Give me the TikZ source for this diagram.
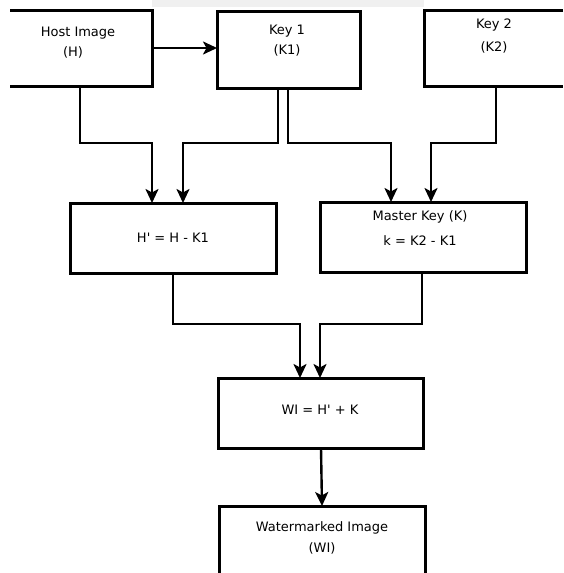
\documentclass[tikz,border=0pt]{standalone}
\usepackage{fontspec}
\setmainfont{DejaVu Sans}
\usetikzlibrary{arrows.meta}
\begin{document}
\begin{tikzpicture}[x=1pt,y=-1pt,
  boxline/.style={line width=3pt},
  txt/.style={font=\fontsize{13}{15}\selectfont, inner sep=0pt, text=black},
  conn/.style={line width=2.4pt, -{Stealth[width=13pt,length=14pt,inset=3.5pt]}},
  plain/.style={line width=2.4pt}]
\useasboundingbox (0,0) rectangle (563,573);
\fill[black!6] (152,0) rectangle (424,7);
% boxes (some cut by the picture edge)
\draw[boxline] (10,10) -- (152,10) -- (152,86) -- (10,86);
\coordinate (hostE) at (152,48);
\node[txt] (hostT) at (78,33) {Host Image};
\node[txt] (hostT2) at (73,52) {(H)};
\draw[boxline] (217,11) rectangle (360,88);
\coordinate (k1W) at (217,48);
\node[txt] (k1T) at (287,31) {Key 1};
\node[txt] (k1T2) at (287,50) {(K1)};
\draw[boxline] (563,10) -- (424,10) -- (424,86) -- (563,86);
\node[txt] (k2T) at (494,25) {Key 2};
\node[txt] (k2T2) at (494,47) {(K2)};
\draw[boxline] (70,203) rectangle (276,273);
\node[txt] (hp) at (173,238) {H\textquotesingle{} = H - K1};
\draw[boxline] (320,202) rectangle (526,272);
\node[txt] (mk1) at (420,217) {Master Key (K)};
\node[txt] (mk2) at (420,241) {k = K2 - K1};
\draw[boxline] (218,378) rectangle (423,448);
\node[txt] (wi) at (320,410) {WI = H\textquotesingle{} + K};
\draw[boxline] (219,573) -- (219,506) -- (425,506) -- (425,573);
\node[txt] (wm1) at (322,528) {Watermarked Image};
\node[txt] (wm2) at (322,548) {(WI)};
% connector end points
\coordinate (hostS) at (80,86);
\coordinate (k1Sa) at (278,88);
\coordinate (k1Sb) at (288,88);
\coordinate (k2S) at (496,86);
\coordinate (hpNa) at (152,203);
\coordinate (hpNb) at (183,203);
\coordinate (mkNa) at (391,202);
\coordinate (mkNb) at (431,202);
\coordinate (hpS) at (173,273);
\coordinate (mkS) at (422,272);
\coordinate (wiNa) at (300,378);
\coordinate (wiNb) at (320,378);
\coordinate (wiS) at (321,448);
\coordinate (wmN) at (322,506);
% connectors
\draw[conn] (hostE) -- (k1W);
\draw[conn] (hostS) |- (152,143) -- (hpNa);
\draw[conn] (k1Sa) |- (183,143) -- (hpNb);
\draw[conn] (k1Sb) |- (391,143) -- (mkNa);
\draw[conn] (k2S) |- (431,143) -- (mkNb);
\draw[conn] (hpS) |- (300,324) -- (wiNa);
\draw[conn] (mkS) |- (320,324) -- (wiNb);
\draw[conn] (wiS) -- (wmN);
\end{tikzpicture}
\end{document}
